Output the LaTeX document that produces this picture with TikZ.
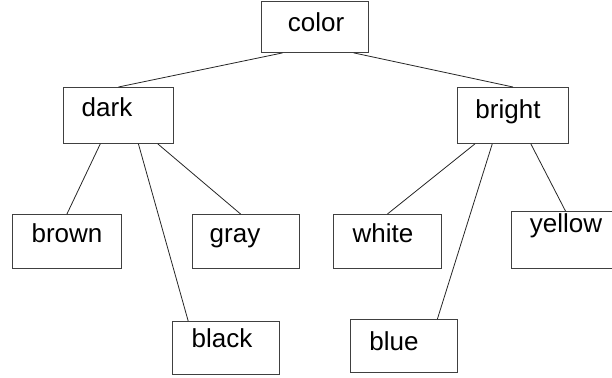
\documentclass[tikz,border=0pt]{standalone}
\usepackage{fontspec}
\setmainfont{Liberation Sans}
\usetikzlibrary{calc}
\tikzset{
  box/.style={draw=black!75, line width=0.9pt, rectangle, inner sep=0pt, anchor=north west},
  word/.style={anchor=base, inner sep=0pt, font=\fontsize{26}{30}\selectfont},
  edge/.style={draw=black!85, line width=0.8pt}
}
% helper: point at fraction f along the bottom (or top) side of a box
\newcommand{\lowpt}[2]{($(#1.south west)!#2!(#1.south east)$)}
\newcommand{\highpt}[2]{($(#1.north west)!#2!(#1.north east)$)}
\begin{document}
\begin{tikzpicture}[x=1pt,y=-1pt]
\useasboundingbox (0,0) rectangle (612,377);
% boxes (top-left corner, size)
\node[box, minimum width=107, minimum height=51] (color)  at (261,1)   {};
\node[box, minimum width=110, minimum height=56] (dark)   at (63,87)   {};
\node[box, minimum width=111, minimum height=56] (bright) at (457,87)  {};
\node[box, minimum width=109, minimum height=54] (brown)  at (12,214)  {};
\node[box, minimum width=107, minimum height=54] (gray)   at (192,214) {};
\node[box, minimum width=108, minimum height=54] (white)  at (333,214) {};
\node[box, minimum width=108, minimum height=57] (yellow) at (511,211) {};
\node[box, minimum width=107, minimum height=53] (black)  at (172,321) {};
\node[box, minimum width=107, minimum height=53] (blue)   at (350,319) {};
% labels
\node[word] (tcolor)  at (316,32)  {color};
\node[word] (tdark)   at (107,117) {dark};
\node[word] (tbright) at (508,118) {bright};
\node[word] (tbrown)  at (67,242)  {brown};
\node[word] (tgray)   at (235,242) {gray};
\node[word] (twhite)  at (383,242) {white};
\node[word] (tyellow) at (566,232) {yellow};
\node[word] (tblack)  at (222,347) {black};
\node[word] (tblue)   at (394,350) {blue};
% tree edges
\draw[edge] \lowpt{color}{0.2}  -- (dark.north);
\draw[edge] \lowpt{color}{0.86} -- (bright.north);
\draw[edge] \lowpt{dark}{0.336} -- (brown.north);
\draw[edge] \lowpt{dark}{0.68}  -- \highpt{black}{0.15};
\draw[edge] \lowpt{dark}{0.855} -- \highpt{gray}{0.45};
\draw[edge] \lowpt{bright}{0.16} -- (white.north);
\draw[edge] \lowpt{bright}{0.315} -- \highpt{blue}{0.81};
\draw[edge] \lowpt{bright}{0.66} -- (yellow.north);
\end{tikzpicture}
\end{document}
